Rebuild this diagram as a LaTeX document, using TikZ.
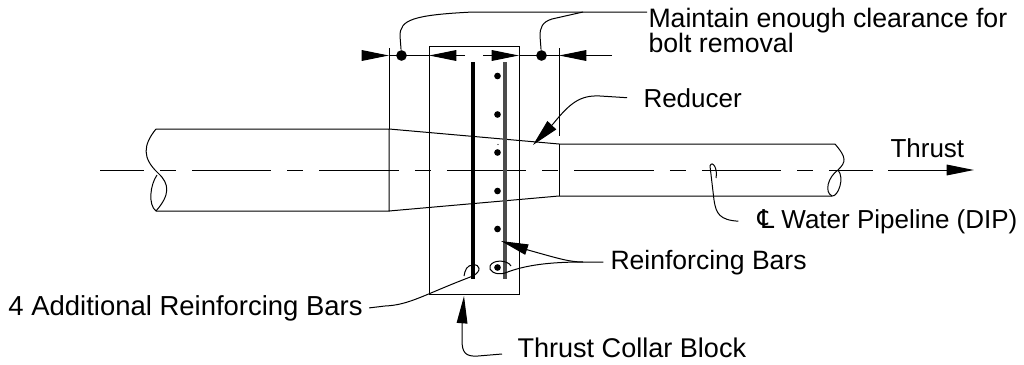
\documentclass[tikz,border=0pt]{standalone}
\usepackage{fontspec}
\setmainfont{Liberation Sans}
\newfontfamily\clfont{DejaVu Sans}
\usetikzlibrary{arrows.meta}
\tikzset{
  dimtip/.style={-{Triangle[length=20.5pt,width=8pt]}},
  widetip/.style={-{Triangle[length=20.5pt,width=9pt]}},
  label/.style={font=\fontsize{#1}{18.75}\selectfont,inner sep=0pt,anchor=base west},
  label/.default=19.5,
  dot/.style={circle,fill=black,inner sep=0pt,minimum size=#1},
}
\begin{document}
\begin{tikzpicture}[x=0.75pt,y=-0.75pt,line width=0.75pt]
  \useasboundingbox (0,0) rectangle (1024,364);
  % pipe and reducer
  \draw (157,175) .. controls (150,185) and (148,205) .. (156,211) -- (389,211) -- (389,129) -- (156,129);
  \draw (156,129) .. controls (143,145) and (142,158) .. (158,173) .. controls (170,184) and (170,195) .. (156,211);
  \draw (389,129) -- (559,144) -- (835,144);
  \draw (389,211) -- (559,196) -- (832,196);
  \draw (559,48) -- (559,136);
  \draw (559,144) -- (559,196);
  \draw (389,48) -- (389,129);
  \draw (835,144) .. controls (847,158) and (846,162) .. (838,170) .. controls (828,177) and (824,192) .. (832,196) .. controls (838,197) and (845,178) .. (838,170);
  % centre line
  \draw[dash pattern=on 59.6pt off 12pt on 12pt off 12pt,dash phase=26.6pt] (100,170) -- (873,170);
  \coordinate (thrusttip) at (974,170);
  \draw[dimtip] (888,170) -- (thrusttip);
  % collar block
  \draw (429,46) rectangle (519,294);
  \draw[line width=2.5pt] (473,62) -- (473,279);
  \draw[line width=2.5pt,black!70] (505,62) -- (505,279);
  \foreach \y in {76,114.5,152.5,191,229,267.5}
    \node[dot=5pt] (bar\y) at (497.5,\y) {};
  \node[dot=1pt] (speck) at (498,144.5) {};
  % dimension line
  \coordinate (dimA) at (389,55.5);
  \coordinate (dimB) at (429,55.5);
  \coordinate (dimC) at (519,55.5);
  \coordinate (dimD) at (559,55.5);
  \node[dot=8pt] (boltA) at (401.5,55.5) {};
  \node[dot=8pt] (boltB) at (541.5,55.5) {};
  \draw[dimtip] (362,55.5) -- (dimA);
  \draw[dimtip] (465,55.5) -- (dimB);
  \draw (dimA) -- (dimB);
  \draw[dimtip] (483,55.5) -- (dimC);
  \draw (dimC) -- (dimD);
  \draw[dimtip] (612,55.5) -- (dimD);
  % labels
  \node[label=20,anchor=north west,align=left] (clearance) at (648,8) {Maintain enough clearance for\\bolt removal};
  \node[label] (reducer) at (643,107) {Reducer};
  \node[label] (thrust) at (890,157) {Thrust};
  \node[label] (pipeline) at (757,228) {{\clfont ℄} Water Pipeline (DIP)};
  \node[label=19.9] (rebars) at (610,269) {Reinforcing Bars};
  \node[label=20.6] (addbars) at (8,315) {4 Additional Reinforcing Bars};
  \node[label=20.3] (collar) at (517,357) {Thrust Collar Block};
  % leaders
  \coordinate (clearlead) at (647,12);
  \coordinate (reducertip) at (533,145);
  \coordinate (rebartip) at (501,241);
  \coordinate (collartip) at (464,296);
  \coordinate (rejoin) at (583,262);
  \coordinate (collarlead) at (502,354);
  \draw (clearlead) -- (473,12) .. controls (412,15) and (400,20) .. (400,36) -- (boltA);
  \draw (583,12) -- (552,19) .. controls (542,22) and (540,28) .. (540,36) -- (boltB);
  \draw[widetip] ([xshift=-12pt]reducer.west) -- (600,96) .. controls (580,95) and (570,103) .. (553,124) -- (reducertip);
  \draw[dimtip] ([xshift=-5pt]rebars.west) -- (rejoin) .. controls (570,262) and (560,259) .. (528,250) -- (rebartip);
  \draw (rejoin) .. controls (550,262) and (525,265) .. (505,273) .. controls (495,276) and (488,270) .. (490,266) .. controls (493,259) and (508,260) .. (511,266);
  \draw ([xshift=4.5pt]addbars.east) -- (385,306) .. controls (410,305) and (425,294) .. (473,276) .. controls (482,271) and (480,264) .. (473,265) .. controls (467,265) and (465,270) .. (464,276);
  \draw[dimtip] (collarlead) -- (478,356) .. controls (465,357) and (462,352) .. (462,340) -- (462,324) -- (collartip);
  \draw ([xshift=-14pt]pipeline.west) .. controls (720,220) and (716,214) .. (714,200) -- (710,166) .. controls (712,160) and (718,168) .. (716,178);
\end{tikzpicture}
\end{document}
